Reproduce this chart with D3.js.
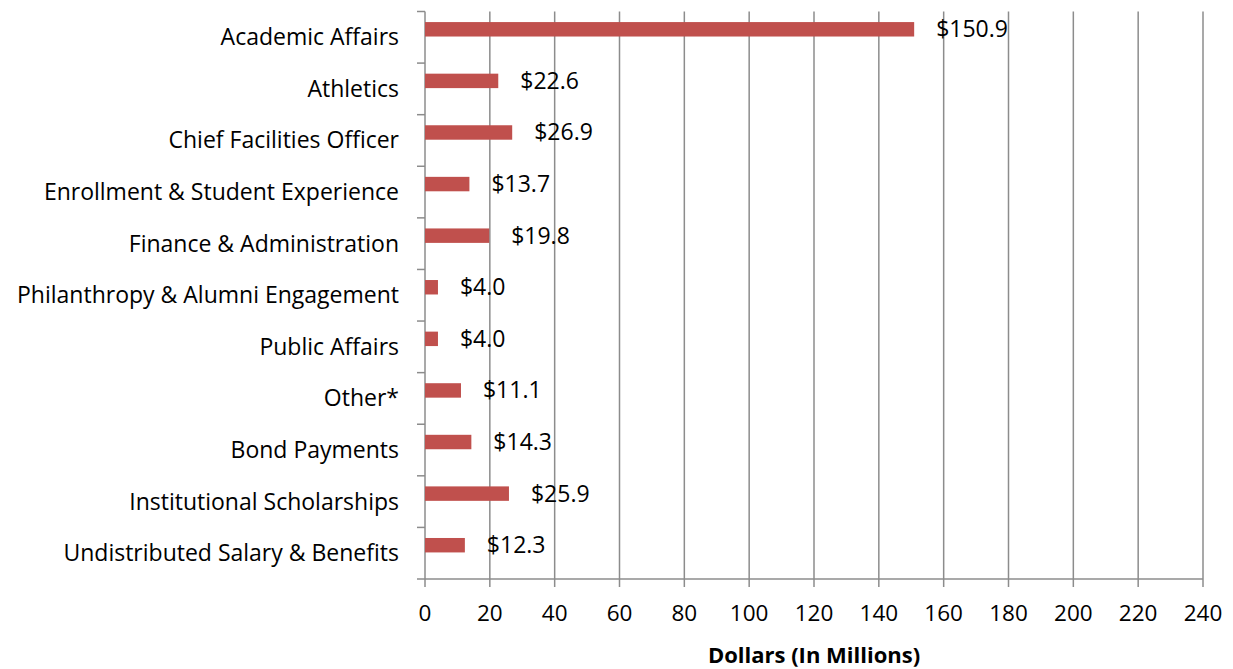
<!DOCTYPE html>
<html lang="en">
  <head>
    <meta charset="utf-8">
    <title>Dollars by Division</title>
    <script src="https://cdn.jsdelivr.net/npm/d3@7"></script>
    <style>
      body { margin: 0; background: white; }
      text { font-family: "Open Sans", sans-serif; fill: black; }
    </style>
  </head>
  <body>
    <svg width="1233" height="669"></svg>
    <script>
      var categories = ["Academic Affairs", "Athletics", "Chief Facilities Officer",
        "Enrollment & Student Experience", "Finance & Administration",
        "Philanthropy & Alumni Engagement", "Public Affairs", "Other*",
        "Bond Payments", "Institutional Scholarships", "Undistributed Salary & Benefits"];
      var values = [150.9, 22.6, 26.9, 13.7, 19.8, 4.0, 4.0, 11.1, 14.3, 25.9, 12.3];
      var xTicks = [0, 20, 40, 60, 80, 100, 120, 140, 160, 180, 200, 220, 240];

      var plotLeft = 425, plotRight = 1203, plotTop = 11.5, plotBottom = 579;
      var fs = 23;
      var svg = d3.select("svg");
      var x = d3.scaleLinear().domain([0, 240]).range([plotLeft, plotRight]);
      var y = d3.scaleBand().domain(categories).range([plotTop, plotBottom]);
      var bw = y.bandwidth();

      // gridlines
      svg.append("g").selectAll("line").data(xTicks.slice(1)).enter().append("line")
        .attr("x1", function(d) { return x(d); }).attr("x2", function(d) { return x(d); })
        .attr("y1", plotTop).attr("y2", plotBottom + 8)
        .attr("stroke", "#8c8c8c").attr("stroke-width", 1.5);

      // axes
      svg.append("line").attr("x1", plotLeft).attr("x2", plotRight)
        .attr("y1", plotBottom).attr("y2", plotBottom)
        .attr("stroke", "#8c8c8c").attr("stroke-width", 1.5);
      svg.append("line").attr("x1", plotLeft).attr("x2", plotLeft)
        .attr("y1", plotTop).attr("y2", plotBottom + 8)
        .attr("stroke", "#8c8c8c").attr("stroke-width", 1.5);
      svg.append("g").selectAll("text").data(xTicks).enter().append("text")
        .attr("x", function(d) { return x(d); }).attr("y", 621)
        .attr("text-anchor", "middle").attr("font-size", 22.5)
        .text(function(d) { return d; });

      // left axis ticks at band edges
      var edges = categories.map(function(c) { return y(c); }).concat([plotBottom]);
      svg.append("g").selectAll("line").data(edges).enter().append("line")
        .attr("x1", plotLeft - 8).attr("x2", plotLeft)
        .attr("y1", function(d) { return d; }).attr("y2", function(d) { return d; })
        .attr("stroke", "#8c8c8c").attr("stroke-width", 1.5);

      svg.append("g").selectAll("text").data(categories).enter().append("text")
        .attr("x", 399).attr("y", function(d) { return y(d) + bw / 2 + 8; })
        .attr("text-anchor", "end").attr("font-size", fs)
        .text(function(d) { return d; });

      // bars
      var data = categories.map(function(c, i) { return { cat: c, v: values[i] }; });
      svg.append("g").selectAll("rect").data(data).enter().append("rect")
        .attr("x", x(0)).attr("y", function(d) { return y(d.cat) + bw * 0.205; })
        .attr("width", function(d) { return x(d.v) - x(0); })
        .attr("height", bw * 0.28)
        .attr("fill", "#c0504d");

      svg.append("g").selectAll("text").data(data).enter().append("text")
        .attr("x", function(d) { return x(d.v) + 22; })
        .attr("y", function(d) { return y(d.cat) + bw * 0.345 + 8; })
        .attr("font-size", fs)
        .text(function(d) { return "$" + d.v.toFixed(1); });

      svg.append("text").attr("x", x(120)).attr("y", 663)
        .attr("text-anchor", "middle").attr("font-size", 22).attr("font-weight", "bold")
        .text("Dollars (In Millions)");
    </script>
  </body>
</html>
